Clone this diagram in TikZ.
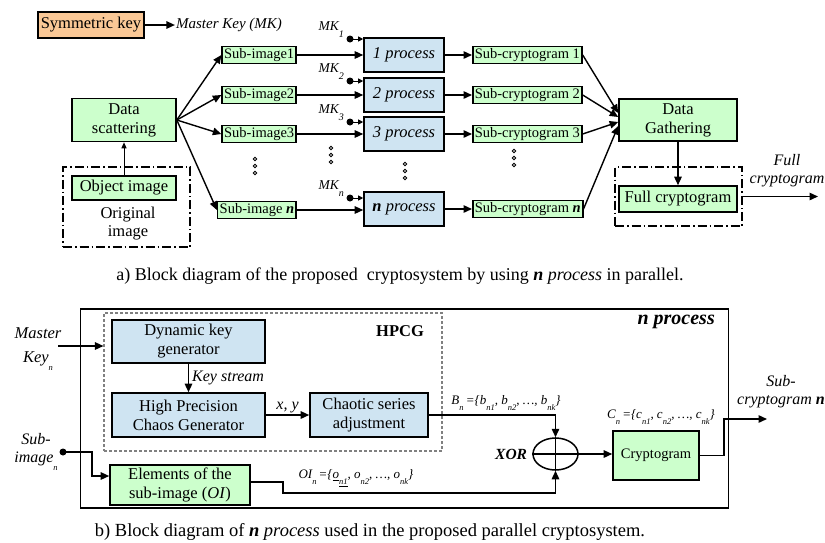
\documentclass[tikz,border=0pt]{standalone}
\usepackage{fontspec}
\setmainfont{Liberation Serif}
\usepackage{xcolor}
\usetikzlibrary{arrows.meta,positioning,shapes.geometric,fit}

\definecolor{boxgreen}{RGB}{204,255,204}
\definecolor{boxblue}{RGB}{207,228,242}
\definecolor{keyorange}{RGB}{250,200,150}
\newcommand{\dn}[1]{\raisebox{-0.5em}{\fontsize{8.5}{9}\selectfont #1}}
\newcommand{\mksub}[1]{\raisebox{-7pt}{\fontsize{10}{10}\selectfont #1}}

\begin{document}
\begin{tikzpicture}[
  x=1pt, y=-1pt,
  box/.style={draw, line width=1.6pt, align=center, inner sep=2pt, font=\fontsize{16.5}{19}\selectfont},
  gbox/.style={box, fill=boxgreen},
  pbox/.style={box, fill=boxblue},
  sbox/.style={gbox, minimum height=16pt, inner sep=2pt, font=\fontsize{14.5}{16}\selectfont},
  procbox/.style={pbox, minimum width=80pt, minimum height=34pt, font=\fontsize{16.5}{19}\selectfont\itshape},
  grp/.style={draw, line width=1.5pt, dash pattern=on 9pt off 3pt on 1.5pt off 3pt},
  lbl/.style={align=center, inner sep=1pt, font=\fontsize{16}{18}\selectfont\itshape},
  setlbl/.style={inner sep=1pt, font=\fontsize{13}{14}\selectfont\itshape},
  kdot/.style={circle, fill, inner sep=0pt, minimum size=7pt},
  arr/.style={-{Triangle[length=8.5pt,width=7.5pt]}, line width=1.4pt},
  thinarr/.style={-{Triangle[length=6pt,width=5pt]}, line width=1pt},
  keyarr/.style={-{Triangle[length=5pt,width=5pt]}, line width=1pt}
]
  \useasboundingbox (0,0) rectangle (825,542);

  % a) parallel cryptosystem
  \node[box, fill=keyorange, minimum width=106pt, minimum height=26pt] (symkey) at (91,25) {Symmetric key};
  \node[lbl, font=\fontsize{15}{17}\selectfont\itshape] (mastkey) at (229,25) {Master Key (MK)};
  \draw[arr] (symkey) -- (mastkey);

  \node[gbox, minimum width=104pt, minimum height=43pt] (scatter) at (124,120) {Data\\scattering};
  \node[gbox, minimum width=104pt, minimum height=24pt] (objimg) at (124,188) {Object image};
  \node[lbl, font=\fontsize{16.5}{18}\selectfont] (origtxt) at (128,224) {Original\\image};
  \node[grp, minimum width=127pt, minimum height=80pt] (origgrp) at (126.5,207) {};
  \draw[thinarr] (objimg) -- (scatter);

  \foreach \i/\y in {1/55,2/95,3/134}{
    \node[sbox, anchor=east] (sub\i) at (297,\y) {Sub-image\i};
    \node[procbox] (proc\i) at (404,\y) {\i\ process};
    \node[sbox, anchor=west] (scr\i) at (472,\y) {Sub-cryptogram \i};
  }
  \node[sbox, anchor=east] (subn) at (297,210) {Sub-image \textbf{\textit{n}}};
  \node[procbox] (procn) at (404,209) {\textbf{n} process};
  \node[sbox, anchor=west] (scrn) at (472,209) {Sub-cryptogram \textbf{\textit{n}}};

  \foreach \i/\y in {1/39,2/81,3/122,n/198}{
    \node[kdot] (mk\i) at (350,\y) {};
    \node[inner sep=0pt, font=\fontsize{13.5}{14}\selectfont\itshape, anchor=south east] (mklbl\i) at (344,{\y-1}) {MK\mksub{\i}};
    \draw[keyarr] (mk\i.center) -- (mk\i -| proc\i.west);
  }

  \foreach \x/\y in {255/159,331/148,405/164,514/151}
    \foreach \d in {0,7,14}
      \draw[line width=0.8pt] (\x,{\y+\d}) circle (1.8pt);

  \node[gbox, minimum width=118pt, minimum height=42pt] (gather) at (678,120) {Data\\Gathering};
  \node[gbox, minimum width=118pt, minimum height=26pt] (fullcr) at (678,199) {Full cryptogram};
  \node[grp, minimum width=127pt, minimum height=59pt] (fullgrp) at (678.5,196.5) {};
  \coordinate (fullend) at (818,196.5);
  \node[lbl] (fulllbl) at (787,171) {Full\\cryptogram};

  \foreach \i in {1,2,3,n}{
    \draw[arr] (scatter.east) -- (sub\i.west);
    \draw[arr] (sub\i.east) -- (sub\i.east -| proc\i.west);
    \draw[arr] (proc\i.east) -- (proc\i.east -| scr\i.west);
  }
  \draw[arr] (scr1.east) -- ([yshift=7pt]gather.west);
  \draw[arr] (scr2.east) -- ([yshift=3pt]gather.west);
  \draw[arr] (scr3.east) -- ([yshift=-2pt]gather.west);
  \draw[arr] (scrn.east) -- ([yshift=-6pt]gather.west);
  \draw[arr] (gather) -- (fullcr);
  \draw[arr] (fullgrp.east) -- (fullend);

  \node[font=\fontsize{18}{20}\selectfont] (capa) at (400,276) {a) Block diagram of the proposed\ \ cryptosystem by using \textbf{\textit{n}} \textit{process} in parallel.};

  % b) one process
  \node[draw, line width=1.5pt, minimum width=648pt, minimum height=199pt] (nproc) at (404.5,408.5) {};
  \node[inner sep=0pt, font=\fontsize{20}{22}\selectfont\bfseries\itshape, anchor=north east] (nproclbl) at (715,315) {n process};
  \node[draw=gray, line width=1.1pt, dash pattern=on 3pt off 2pt, minimum width=338pt, minimum height=138pt] (hpcggrp) at (273,382) {};
  \node[font=\fontsize{16.5}{18}\selectfont\bfseries] (hpcglbl) at (400,331) {HPCG};

  \node[pbox, minimum width=153pt, minimum height=43pt] (dkg) at (188.5,341.5) {Dynamic key\\generator};
  \node[pbox, minimum width=153pt, minimum height=44pt] (hpcg) at (188.5,415) {High Precision\\Chaos Generator};
  \node[pbox, minimum width=118pt, minimum height=44pt] (csa) at (369,415) {Chaotic series\\adjustment};
  \node[gbox, minimum width=140pt, minimum height=40pt] (elem) at (180,485) {Elements of the\\sub-image (\textit{OI})};
  \node[draw, ellipse, line width=1.5pt, minimum width=45pt, minimum height=32pt, inner sep=0pt] (xor) at (555.5,454) {};
  \draw[line width=1.5pt] (xor.north) -- (xor.south) (xor.west) -- (xor.east);
  \node[inner sep=0pt, font=\fontsize{15.5}{17}\selectfont\bfseries\itshape, left=5pt of xor] (xorlbl) {XOR};
  \node[gbox, minimum width=86pt, minimum height=49pt, font=\fontsize{14.5}{16}\selectfont] (crypt) at (656,455.5) {Cryptogram};

  \node[lbl, font=\fontsize{16.5}{18}\selectfont\itshape] (mklbln) at (38,349) {Master\\[6pt]Key\dn{n}};
  \coordinate (mkin) at (58,346);
  \node[lbl] (sublbln) at (36,452) {Sub-\\image\dn{n}};
  \node[kdot] (sidot) at (63,452) {};
  \coordinate (subcrend) at (767,419);
  \node[lbl] (subcrlbl) at (781,392) {Sub-\\cryptogram \textbf{n}};

  \node[setlbl] (blbl) at (506,403) {B\dn{n}\,=\{b\dn{n1}, b\dn{n2}, \dots, b\dn{nk}\}};
  \node[setlbl] (clbl) at (661,417) {C\dn{n}\,=\{c\dn{n1}, c\dn{n2}, \dots, c\dn{nk}\}};
  \node[setlbl] (oilbl) at (356,478) {OI\dn{n}\,=\{\underline{o}\dn{\underline{n1}}, o\dn{n2}, \dots, o\dn{nk}\}};

  \draw[arr] (mkin) -- (mkin -| hpcggrp.west);
  \draw[arr] (dkg) -- node[lbl, right=2pt] {Key stream} (hpcg);
  \draw[arr] (hpcg) -- node[lbl, above] {x, y} (csa);
  \draw[arr] (csa.east) -- (csa.east -| xor.north) -- (xor.north);
  \draw[arr] (sidot.center) -- ++(29,0) |- ([yshift=9pt]elem.west);
  \draw[arr] ([yshift=3pt]elem.east) -- ++(32,0) -- ++(0,11) -| (xor.south);
  \draw[arr] (xor.east) -- (xor.east -| crypt.west);
  \draw[arr] (crypt.east) -- ++(24,0) |- (subcrend);

  \node[font=\fontsize{18.5}{20}\selectfont] (capb) at (370,532) {b) Block diagram of \textbf{\textit{n}} \textit{process} used in the proposed parallel cryptosystem.};
\end{tikzpicture}
\end{document}
